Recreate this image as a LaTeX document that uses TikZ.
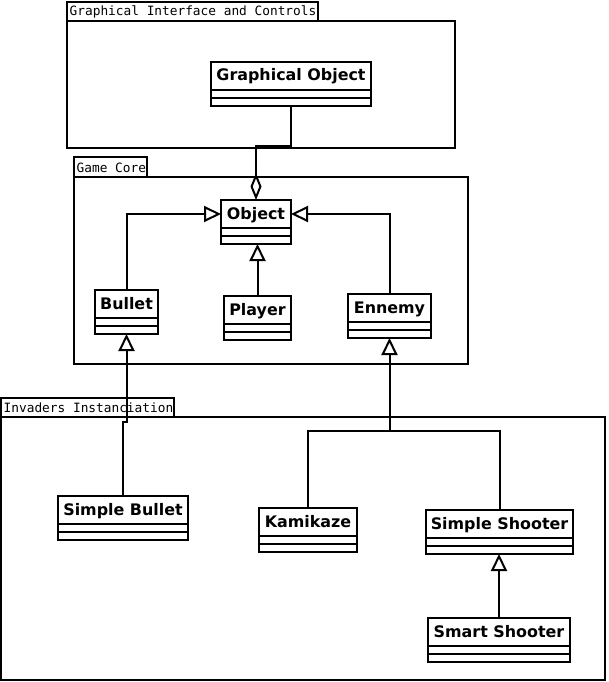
\documentclass[tikz,border=0pt]{standalone}
\usepackage{fontspec}
\setmainfont{DejaVu Sans}
\newfontfamily\monof{DejaVu Sans Mono}
\usetikzlibrary{arrows.meta}
\tikzset{
  ln/.style={line width=2pt},
  classbox/.style={draw, ln, fill=white, rectangle, inner sep=0pt, outer sep=0pt},
  titlebox/.style={draw, ln, rectangle, inner sep=0pt, outer sep=0pt},
  classname/.style={inner sep=0pt, font=\bfseries\fontsize{15.9pt}{18pt}\selectfont},
  pkgbox/.style={draw, ln, rectangle, inner sep=0pt, outer sep=0pt},
  pkglabel/.style={inner sep=0pt, font=\monof\fontsize{12.8pt}{15pt}\selectfont},
  conn/.style={ln, line join=miter},
  inh/.style={conn, -{Triangle[open, length=17pt, width=16pt]}},
  aggr/.style={conn, -{Diamond[open, length=27pt, width=11pt]}},
}
\newcommand{\umlclass}[6]{%
  \pgfmathsetmacro\cw{#4-#2}%
  \pgfmathsetmacro\ch{#5-#3}%
  \pgfmathsetmacro\th{#5-#3-16}%
  \node[classbox, minimum width=\cw pt, minimum height=\ch pt, anchor=north west] (#1) at (#2,#3) {};
  \node[titlebox, minimum width=\cw pt, minimum height=\th pt, anchor=north west] (#1-t) at (#2,#3) {};
  \draw[ln] (#2,#5-8) -- (#4,#5-8);
  \node[classname, anchor=base] (#1-n) at ({(#2+#4)/2},#5-16-9) {#6};
}
% name, x1, ytab, xtab2, y1, x2, y2, label
\newcommand{\umlpkg}[8]{%
  \pgfmathsetmacro\tw{#4-#2}%
  \pgfmathsetmacro\tth{#5-#3}%
  \pgfmathsetmacro\pw{#6-#2}%
  \pgfmathsetmacro\ph{#7-#5}%
  \node[pkgbox, minimum width=\tw pt, minimum height=\tth pt, anchor=north west] (#1-tab) at (#2,#3) {};
  \node[pkgbox, minimum width=\pw pt, minimum height=\ph pt, anchor=north west] (#1) at (#2,#5) {};
  \node[pkglabel, anchor=base west] (#1-lbl) at (#2+2.5,#5-5) {#8};
}
\begin{document}
\begin{tikzpicture}[x=1pt, y=-1pt]
\fill[white] (0,0) rectangle (608,682);
\useasboundingbox (0,0) rectangle (608,682);

\umlpkg{gic}{67}{2}{318}{21}{455}{148}{Graphical Interface and Controls}
\umlpkg{gc}{74}{157}{146.5}{177}{468}{364}{Game Core}
\umlpkg{ii}{1}{398}{174}{417}{605}{680}{Invaders Instanciation}

\umlclass{go}{211}{62}{371}{106}{Graphical Object}
\umlclass{obj}{221}{200}{291}{244}{Object}
\umlclass{bul}{95}{290}{158}{334}{Bullet}
\umlclass{pl}{224}{296}{291}{340}{Player}
\umlclass{enn}{348}{294}{431}{338}{Ennemy}
\umlclass{sb}{58}{496}{188}{540}{Simple Bullet}
\umlclass{kam}{259}{508}{357}{552}{Kamikaze}
\umlclass{ss}{426}{510}{573}{554}{Simple Shooter}
\umlclass{sm}{428}{618}{570}{662}{Smart Shooter}

\coordinate (e1) at (256,146);
\draw[aggr] (go.south) |- (e1) -- (obj.north);

\draw[inh] (bul.north) |- (obj-t.west);
\draw[inh] (enn.north) |- (obj-t.east);
\draw[inh] (pl.north) -- (pl.north |- obj.south);

\coordinate (c1) at (126.5,422);
\draw[inh] (sb.north) |- (c1) -- (bul.south);

\coordinate (j2) at (389.5,431);
\draw[inh] (j2) -- (enn.south);
\draw[conn] (kam.north) |- (j2);
\draw[conn] (ss.north) |- (j2);

\draw[inh] (sm.north) -- (sm.north |- ss.south);
\end{tikzpicture}
\end{document}
